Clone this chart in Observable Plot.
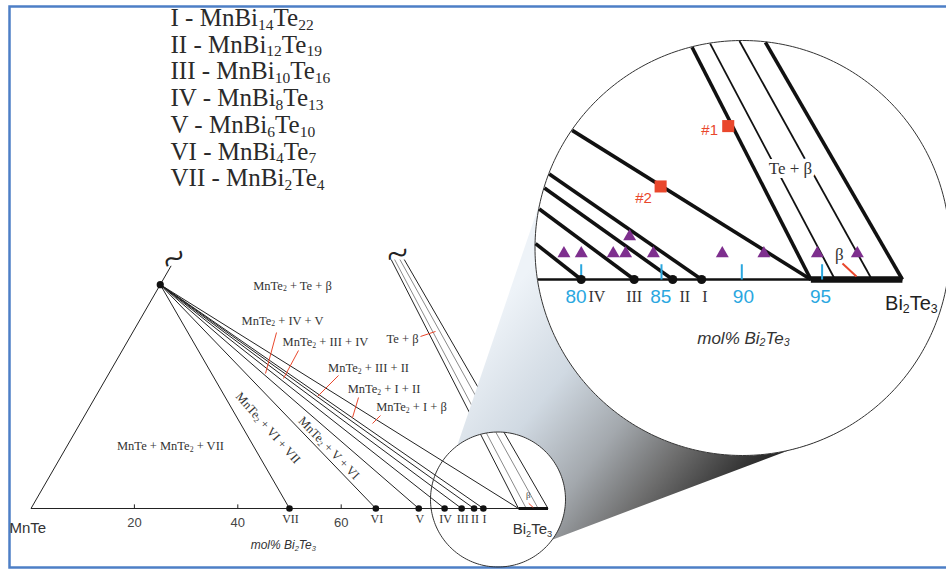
<!DOCTYPE html>
<html><head><meta charset="utf-8">
<script src="https://cdn.jsdelivr.net/npm/d3@7"></script>
<script src="https://cdn.jsdelivr.net/npm/@observablehq/plot@0.6"></script>
<style>html,body{margin:0;padding:0;background:#fff}</style>
</head><body><div id="chart"></div>
<script>
// ================= DATA =================
// Compounds on the MnTe–Bi2Te3 join (mol% Bi2Te3)
const phaseNames = ["VII", "VI", "V", "IV", "III", "II", "I"];
const phaseMol   = [50.0, 66.7, 75.0, 80.0, 83.3, 85.7, 87.5];
// legend
const legendNumerals = ["I", "II", "III", "IV", "V", "VI", "VII"];
const legendFormulas = ["MnBi_{14}Te_{22}", "MnBi_{12}Te_{19}", "MnBi_{10}Te_{16}", "MnBi_{8}Te_{13}",
                        "MnBi_{6}Te_{10}", "MnBi_{4}Te_{7}", "MnBi_{2}Te_{4}"];
// β solid solution lower limit (mol% Bi2Te3)
const betaMin = 94.3;
// Te + β tie lines ending on the join
const teTieMol  = [94.3, 95.8, 98.1, 100];
const teTieKind = ["bound", "tie", "tie", "bound"];
// axis ticks
const mainTicks = [20, 40, 60];
const zoomTicks = [80, 85, 90, 95];
const zoomTickLabelAt = [79.68, 84.95, 90.1, 94.9];
// compounds shown in the magnified view
const zoomPhaseNames = ["IV", "III", "II", "I"];
const zoomPhaseMol   = [80.0, 83.3, 85.7, 87.5];
const zoomPhaseLabelAt = [80.98, 83.3, 86.45, 87.7];
// samples (triangles): mol% Bi2Te3 and at.% Te excess
const sampleBi = [77.99, 79.07, 81.06, 81.83, 81.47, 83.56, 87.85, 90.44, 93.77, 96.26];
const sampleTe = [1.87, 1.87, 1.87, 1.87, 3.09, 1.87, 1.87, 1.87, 1.87, 1.87];
// marked crystals (squares)
const markedNames = ["#1", "#2"];
const markedBi = [83.64, 81.60];
const markedTe = [11.03, 6.69];

// ================= LAYOUT =================
const W = 946, H = 569;
const K = 5.17;                 // px per chart unit
const ORIGIN = [30.5, 508];     // px of the MnTe corner
const U = (px, py) => [(px - ORIGIN[0]) / K, (ORIGIN[1] - py) / K];
const small = {c: U(497.5, 499), r: 67.5 / K};
const big   = {c: U(742, 247.5), r: 207.5 / K};
const zoomOrigin = U(580.7, 279), zoomScale = 16.06 / K, zoomRef = 80;
const cone = {A: 127.2, B: 166.9, C: -61.6, D: -36.5};
const teCut = 0.556, leftCut = 54.2;

// ternary projection (x along MnTe–Bi2Te3, y toward Te)
const S3 = Math.sqrt(3) / 2;
const tern = (b, t) => [b + t / 2, t * S3];
const MnTe2 = tern(0, 50), Te = tern(0, 100);
const zp = p => [zoomOrigin[0] + zoomScale * (p[0] - zoomRef), zoomOrigin[1] + zoomScale * p[1]];

function clip(p0, p1, c, r) {
  const dx = p1[0] - p0[0], dy = p1[1] - p0[1];
  const fx = p0[0] - c[0], fy = p0[1] - c[1];
  const a = dx * dx + dy * dy, b = 2 * (fx * dx + fy * dy), cc = fx * fx + fy * fy - r * r;
  const disc = b * b - 4 * a * cc;
  if (disc < 0) return null;
  const s = Math.sqrt(disc);
  const ta = Math.max(0, (-b - s) / (2 * a)), tb = Math.min(1, (-b + s) / (2 * a));
  if (ta >= tb) return null;
  return [[p0[0] + ta * dx, p0[1] + ta * dy], [p0[0] + tb * dx, p0[1] + tb * dy]];
}
const arc = (C, a0, a1, n = 120) => d3.range(n + 1).map(i => {
  const a = (a0 + (a1 - a0) * i / n) * Math.PI / 180;
  return [C.c[0] + C.r * Math.cos(a), C.c[1] + C.r * Math.sin(a)];
});

// ---- main diagram segments ----
const mainSegs = [
  {p: [[0, 0], [100, 0]], w: 1, s: "#222"},
  {p: [[0, 0], tern(0, leftCut)], w: 1, s: "#222"},
  ...phaseMol.concat([betaMin]).map(m => ({p: [MnTe2, [m, 0]], w: 1, s: "#222"})),
  ...teTieMol.map((m, i) => ({p: [[m, 0], [m + (Te[0] - m) * teCut, Te[1] * teCut]], w: 1,
                              s: teTieKind[i] === "bound" ? "#222" : "#8a8a8a"})),
  {p: [[betaMin, 0], [100, 0]], w: 3, s: "#111"},
  ...mainTicks.map(m => ({p: [[m, 0], [m, 0.8]], w: 1, s: "#222"}))
];
const bundleTop = [(teTieMol[0] + (Te[0] - teTieMol[0]) * teCut + 100 + (Te[0] - 100) * teCut) / 2, Te[1] * teCut];

const regionLabels = [
  {t: "MnTe_{2} + Te + β", x: 50.58, y: 43.13, r: 0},
  {t: "MnTe_{2} + IV + V", x: 48.65, y: 36.36, r: 0},
  {t: "MnTe_{2} + III + IV", x: 56.96, y: 32.11, r: 0},
  {t: "Te + β", x: 71.86, y: 32.88, r: 0},
  {t: "MnTe_{2} + III + II", x: 65.28, y: 27.08, r: 0},
  {t: "MnTe_{2} + I + II", x: 68.28, y: 23.02, r: 0},
  {t: "MnTe_{2} + I + β", x: 73.60, y: 19.54, r: 0},
  {t: "MnTe + MnTe_{2} + VII", x: 26.98, y: 12.05, r: 0},
  {t: "MnTe_{2} + VI + VII", x: 45.84, y: 15.57, r: 48.5},
  {t: "MnTe_{2} + V + VI", x: 57.64, y: 11.70, r: 46}
];
const leaders = [
  [[47.49, 34.04], [45.36, 26.11]],
  [[51.74, 30.56], [48.84, 25.15]],
  [[59.48, 25.73], [55.42, 21.66]],
  [[63.35, 21.47], [62.19, 17.60]],
  [[67.60, 17.99], [66.05, 16.44]],
  [[75.34, 33.27], [78.24, 34.24]],
  [[96.27, 1.0], [97.14, 0.19]]
];

// ---- magnified segments ----
const zoomSegs = [];
function addZ(p0, p1, w, s) {
  const c = clip(zp(p0), zp(p1), big.c, big.r - 0.1);
  if (c) zoomSegs.push({p: c, w, s});
}
addZ([60, 0], [100, 0], 2.5, "#111");
zoomPhaseMol.concat([betaMin]).forEach(m => addZ([m, 0], MnTe2, 3.6, "#111"));
teTieMol.forEach((m, i) => addZ([m, 0], Te, teTieKind[i] === "bound" ? 3.6 : 1.8, "#111"));
addZ([betaMin, 0], [100, 0], 6.5, "#111");
const zoomTickSegs = zoomTicks.map(m => ({p: [zp([m, 0]), zp([m, 0.95])]}));
const betaTick = [zp([96.27, 1.0]), zp([97.14, 0.19])];

const conePts = [...arc(big, cone.B, 360 + cone.C), ...arc(small, cone.D, cone.A)];
conePts.push(conePts[0]);

const samples = sampleBi.map((b, i) => zp(tern(b, sampleTe[i])));
const marked = markedBi.map((b, i) => ({p: zp(tern(b, markedTe[i])), name: markedNames[i]}));
const markedLabelPos = [zp([88.0, 9.28]), zp([83.88, 5.04])];

const seg = (data, opts) => Plot.link(data, {x1: d => d.p[0][0], y1: d => d.p[0][1], x2: d => d.p[1][0], y2: d => d.p[1][1], ...opts});
const SERIF = "'Liberation Serif','Times New Roman',serif";
const SANS = "'Liberation Sans',Arial,sans-serif";
const BLUE = "#2aa7df", RED = "#e9472c", PURPLE = "#7e2f8e";

const legendRows = legendNumerals.map((n, i) => ({t: n + " - " + legendFormulas[i], p: U(170, 17.5 + 26.7 * i)}));

const svg = Plot.plot({
  width: W, height: H, margin: 0,
  x: {domain: [-ORIGIN[0] / K, (W - ORIGIN[0]) / K], axis: null},
  y: {domain: [-(H - ORIGIN[1]) / K, ORIGIN[1] / K], axis: null},
  style: {background: "white"},
  marks: [
    Plot.frame({stroke: "#4d7fc6", strokeWidth: 2.5, insetLeft: 9, insetTop: 6, insetBottom: 2, insetRight: -10}),
    // legend
    Plot.text(legendRows, {x: d => d.p[0], y: d => d.p[1], text: "t", textAnchor: "start", fontSize: 25, fontFamily: SERIF, fill: "#2a2a2a"}),
    // main diagram
    seg(mainSegs, {stroke: d => d.s, strokeWidth: d => d.w}),
    Plot.dot(phaseMol, {x: d => d, y: 0, r: 3.3, fill: "#111"}),
    Plot.dot([MnTe2], {x: d => d[0], y: d => d[1], r: 3.6, fill: "#111"}),
    Plot.text(phaseNames, {x: (d, i) => phaseMol[i], y: 0, text: d => d, dy: 11, dx: 1, fontSize: 12, fontFamily: SERIF, fill: "#333"}),
    Plot.text(mainTicks, {x: d => d, y: 0, text: d => String(d), dy: 14, fontSize: 13, fontFamily: SANS, fill: "#444"}),
    Plot.text(["MnTe"], {x: 0, y: 0, text: d => d, textAnchor: "start", dx: -21.5, dy: 20, fontSize: 15, fontFamily: SANS, fill: "#333"}),
    Plot.text(["mol% Bi_{2}Te_{3}"], {x: 48.8, y: 0, text: d => d, dy: 37, fontSize: 12, fontStyle: "italic", fontFamily: SANS, fill: "#333"}),
    Plot.text(regionLabels, {x: "x", y: "y", text: "t", rotate: "r", fontSize: 12.5, fontFamily: SERIF, fill: "#333"}),
    seg(leaders.map(p => ({p})), {stroke: RED, strokeWidth: 1}),
    Plot.text(["β"], {x: 96.2, y: 2.5, text: d => d, fontSize: 9, fontFamily: SERIF, fill: "#444"}),
    Plot.text(["~"], {x: tern(0, leftCut)[0], y: tern(0, leftCut)[1], text: d => d, dy: -7, dx: 3, rotate: -30, fontSize: 42, fontFamily: SERIF, fill: "#222"}),
    Plot.text(["~"], {x: bundleTop[0], y: bundleTop[1], text: d => d, dy: -5, rotate: -15, fontSize: 40, fontFamily: SERIF, fill: "#222"}),
    // magnifier cone + circles
    Plot.line(conePts, {x: d => d[0], y: d => d[1], fill: "url(#coneGrad)", stroke: "none"}),
    Plot.line(arc(small, 0, 360, 180), {x: d => d[0], y: d => d[1], fill: "none", stroke: "#333", strokeWidth: 1}),
    Plot.text(["Bi_{2}Te_{3}"], {x: 100, y: 0, text: d => d, dx: -15.5, dy: 21, fontSize: 15, fontFamily: SANS, fill: "#333"}),
    Plot.line(arc(big, 0, 360, 360), {x: d => d[0], y: d => d[1], fill: "white", stroke: "#333", strokeWidth: 1}),
    // magnified view
    seg(zoomSegs, {stroke: d => d.s, strokeWidth: d => d.w}),
    seg(zoomTickSegs, {stroke: BLUE, strokeWidth: 2}),
    seg([{p: betaTick}], {stroke: RED, strokeWidth: 2}),
    Plot.dot(zoomPhaseMol, {x: d => zp([d, 0])[0], y: d => zp([d, 0])[1], r: 4.6, fill: "#111"}),
    Plot.dot(samples, {x: d => d[0], y: d => d[1], symbol: "triangle", r: 4.8, fill: PURPLE}),
    Plot.dot(marked, {x: d => d.p[0], y: d => d.p[1], symbol: "square", r: 6.8, fill: RED}),
    Plot.text(marked, {x: (d, i) => markedLabelPos[i][0], y: (d, i) => markedLabelPos[i][1], text: "name", fontSize: 15, fontFamily: SANS, fill: RED}),
    Plot.text(["Te + β"], {x: zp([93.03, 6.91])[0], y: zp([93.03, 6.91])[1], text: d => d, fontSize: 17, fontFamily: SERIF, fill: "#333", stroke: "white", strokeWidth: 8}),
    Plot.text(["β"], {x: zp([96.08, 1.56])[0], y: zp([96.08, 1.56])[1], text: d => d, fontSize: 17, fontFamily: SERIF, fill: "#333"}),
    Plot.text(zoomTicks, {x: (d, i) => zp([zoomTickLabelAt[i], 0])[0], y: zp([80, 0])[1], text: d => String(d), dy: 17, fontSize: 19, fontFamily: SANS, fill: BLUE}),
    Plot.text(zoomPhaseNames, {x: (d, i) => zp([zoomPhaseLabelAt[i], 0])[0], y: zp([80, 0])[1], text: d => d, dy: 17, fontSize: 16, fontFamily: SERIF, fill: "#333"}),
    Plot.text(["Bi_{2}Te_{3}"], {x: zp([100, 0])[0], y: zp([100, 0])[1], text: d => d, dx: 9, dy: 24, fontSize: 20, fontFamily: SANS, fill: "#222"}),
    Plot.text(["mol% Bi_{2}Te_{3}"], {x: zp([90.1, 0])[0], y: zp([90.1, 0])[1], text: d => d, dy: 59, fontSize: 17, fontStyle: "italic", fontFamily: SANS, fill: "#333"})
  ]
});

// gradient for the magnifier cone
const g = d3.select(svg).insert("defs", ":first-child").append("linearGradient")
  .attr("id", "coneGrad").attr("gradientUnits", "userSpaceOnUse")
  .attr("x1", 480).attr("y1", 330).attr("x2", 720).attr("y2", 520);
[[0, "#eef3f8"], [0.3, "#d0d9e2"], [0.55, "#a3a8ad"], [0.75, "#6e6e6e"], [0.95, "#343434"], [1, "#2a2a2a"]]
  .forEach(([o, c]) => g.append("stop").attr("offset", o).attr("stop-color", c));

// subscripts: "_{..}" → smaller, lowered tspans
const NS = "http://www.w3.org/2000/svg";
svg.querySelectorAll("text").forEach(t => {
  const s = t.textContent;
  if (!s.includes("_{")) return;
  while (t.firstChild) t.removeChild(t.firstChild);
  const re = /_\{([^}]*)\}/g; let last = 0, m, lowered = false;
  const add = (txt, sub) => {
    const ts = document.createElementNS(NS, "tspan");
    ts.textContent = txt;
    if (sub) { ts.setAttribute("font-size", "62%"); if (!lowered) ts.setAttribute("dy", "0.24em"); lowered = true; }
    else if (lowered) { ts.setAttribute("dy", "-0.149em"); lowered = false; }
    t.appendChild(ts);
  };
  while ((m = re.exec(s))) {
    if (m.index > last) add(s.slice(last, m.index), false);
    add(m[1], true);
    last = re.lastIndex;
  }
  if (last < s.length) add(s.slice(last), false);
});
document.getElementById("chart").appendChild(svg);
</script></body></html>
